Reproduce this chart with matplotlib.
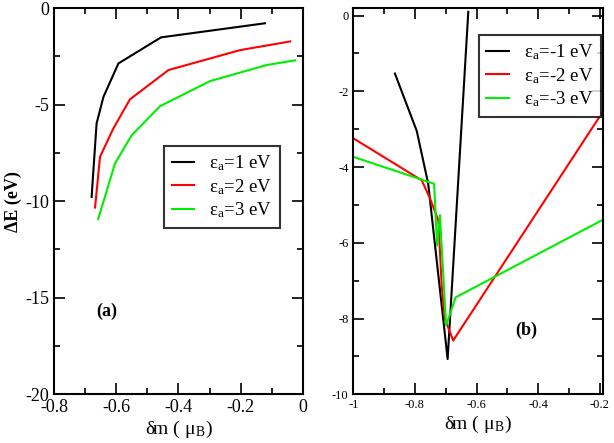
import numpy as np
import matplotlib
matplotlib.use("Agg")
import matplotlib.pyplot as plt
from matplotlib.ticker import MultipleLocator

plt.rcParams['font.family'] = ['Liberation Serif', 'DejaVu Serif']
plt.rcParams['mathtext.fontset'] = 'stix'

# panel (a): eps_a > 0
a_labels = ['1', '2', '3']
a_x1 = [-0.679, -0.674, -0.663, -0.641, -0.593, -0.456, -0.122]
a_y1 = [-9.78, -8.57, -5.97, -4.60, -2.87, -1.52, -0.79]
a_x2 = [-0.668, -0.652, -0.609, -0.556, -0.432, -0.309, -0.202, -0.041]
a_y2 = [-10.33, -7.70, -6.23, -4.73, -3.21, -2.66, -2.18, -1.73]
a_x3 = [-0.658, -0.604, -0.550, -0.459, -0.298, -0.116, -0.025]
a_y3 = [-10.93, -8.05, -6.58, -5.08, -3.78, -2.95, -2.71]

# panel (b): eps_a < 0
b_labels = ['-1', '-2', '-3']
b_x1 = [-0.865, -0.794, -0.757, -0.694, -0.627]
b_y1 = [-1.53, -3.05, -4.44, -9.07, 0.10]
b_x2 = [-1.0, -0.778, -0.751, -0.724, -0.713, -0.703, -0.676, -0.19]
b_y2 = [-3.24, -4.35, -4.83, -5.41, -7.17, -8.01, -8.58, -2.53]
b_x3 = [-1.0, -0.738, -0.728, -0.719, -0.699, -0.668, -0.19]
b_y3 = [-3.73, -4.44, -6.07, -5.27, -8.18, -7.44, -5.39]

colors = ['black', 'red', '#00ee00']

fig = plt.figure(figsize=(6.14, 4.43), dpi=100)
ax1 = fig.add_axes([0.0879, 0.1099, 0.4055, 0.872])
ax2 = fig.add_axes([0.5754, 0.1099, 0.4067, 0.872])

for x, y, c, l in zip([a_x1, a_x2, a_x3], [a_y1, a_y2, a_y3], colors, a_labels):
    ax1.plot(x, y, color=c, lw=1.5, label='ε$_{\\mathregular{a}}$=' + l + ' eV')
for x, y, c, l in zip([b_x1, b_x2, b_x3], [b_y1, b_y2, b_y3], colors, b_labels):
    ax2.plot(x, y, color=c, lw=1.5, label='ε$_{\\mathregular{a}}$=' + l + ' eV')

ax1.set_xlim(-0.8, 0)
ax1.set_ylim(-20, 0)
ax1.xaxis.set_minor_locator(MultipleLocator(0.1))
ax1.yaxis.set_minor_locator(MultipleLocator(2.5))
ax1.set_xticks([-0.8, -0.6, -0.4, -0.2, 0])
ax1.set_xticklabels(['-0.8', '-0.6', '-0.4', '-0.2', '0'])
ax1.set_yticks([-20, -15, -10, -5, 0])
ax1.set_yticklabels(['-20', '-15', '-10', '-5', '0'])

ax2.set_xlim(-1, -0.19)
ax2.set_ylim(-10, 0.2)
ax2.set_xticks([-1, -0.8, -0.6, -0.4, -0.2])
ax2.set_xticklabels(['-1', '-0.8', '-0.6', '-0.4', '-0.2'])
ax2.xaxis.set_minor_locator(MultipleLocator(0.1))
ax2.set_yticks([-10, -8, -6, -4, -2, 0])
ax2.set_yticklabels(['-10', '-8', '-6', '-4', '-2', '0'])
ax2.yaxis.set_minor_locator(MultipleLocator(1))

for ax, fs in [(ax1, 13), (ax2, 9)]:
    ax.tick_params(which='both', direction='in', top=True, right=True, width=1.2)
    ax.tick_params(which='major', length=8, labelsize=fs)
    ax.tick_params(which='minor', length=4)
    for s in ax.spines.values():
        s.set_linewidth(1.5)
    ax.set_xlabel('δm ( μ$_{\\mathregular{B}}$)', fontsize=14, labelpad=2)
    leg_pos = (0.442, 0.643) if ax is ax1 else (0.503, 0.93)
    leg = ax.legend(loc='upper left', bbox_to_anchor=leg_pos, fontsize=13.5,
                    frameon=True, fancybox=False, edgecolor='black',
                    handlelength=1.2, handletextpad=0.8, labelspacing=0.2,
                    borderpad=0.4, borderaxespad=0)
    leg.get_frame().set_linewidth(1.5)

ax1.set_ylabel('ΔE (eV)', fontsize=13, fontweight='bold', labelpad=2)
ax1.text(-0.63, -15.7, '(a)', fontsize=13, fontweight='bold', ha='center', va='center')
ax2.text(-0.44, -8.3, '(b)', fontsize=13, fontweight='bold', ha='center', va='center')

fig.savefig('out.png', dpi=100)
